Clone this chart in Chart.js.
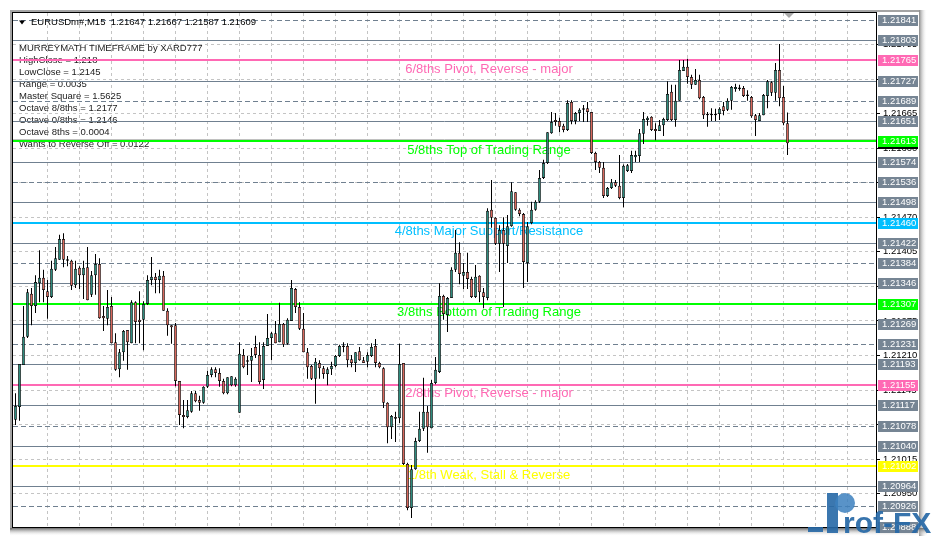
<!DOCTYPE html>
<html>
<head>
<meta charset="utf-8">
<title>EURUSDm#,M15 MurreyMath</title>
<script src="https://cdn.jsdelivr.net/npm/chart.js@4.4.1/dist/chart.umd.min.js"></script>
<style>
  html, body { margin: 0; padding: 0; background: #ffffff; }
  canvas { display: block; }
</style>
</head>
<body>
<canvas id="chart" width="935" height="539"></canvas>
<script>
// ---- Quote data: EURUSDm#, M15 candles (oldest first) ----
const opens = [
1.21089,1.21113,1.21192,1.21245,1.21326,1.21303,1.21346,1.21356,1.21331,1.21320,
1.21371,1.21390,1.21429,1.21391,1.21388,1.21342,1.21375,1.21361,1.21376,1.21324,
1.21361,1.21382,1.21284,1.21279,1.21303,1.21235,1.21184,1.21216,1.21258,1.21233,
1.21310,1.21277,1.21277,1.21307,1.21352,1.21358,1.21352,1.21360,1.21294,1.21267,
1.21267,1.21162,1.21098,1.21094,1.21104,1.21139,1.21126,1.21121,1.21151,1.21173,
1.21184,1.21177,1.21162,1.21139,1.21154,1.21154,1.21102,1.21211,1.21198,1.21200,
1.21226,1.21211,1.21164,1.21228,1.21243,1.21252,1.21235,1.21269,1.21232,1.21275,
1.21335,1.21301,1.21260,1.21216,1.21190,1.21166,1.21196,1.21186,1.21175,1.21184,
1.21190,1.21209,1.21226,1.21228,1.21203,1.21196,1.21218,1.21201,1.21198,1.21209,
1.21228,1.21196,1.21186,1.21121,1.21075,1.21094,1.21092,1.21196,1.21006,1.20923,
1.20996,1.21049,1.21072,1.21104,1.21073,1.21158,1.21179,1.21322,1.21286,1.21318,
1.21371,1.21403,1.21360,1.21367,1.21354,1.21320,1.21360,1.21329,1.21318,1.21484,
1.21469,1.21420,1.21446,1.21416,1.21453,1.21517,1.21484,1.21476,1.21384,1.21459,
1.21484,1.21499,1.21544,1.21572,1.21628,1.21653,1.21651,1.21642,1.21634,1.21687,
1.21651,1.21666,1.21672,1.21675,1.21668,1.21591,1.21574,1.21563,1.21510,1.21525,
1.21536,1.21529,1.21506,1.21557,1.21557,1.21583,1.21585,1.21627,1.21653,1.21659,
1.21636,1.21632,1.21643,1.21653,1.21706,1.21653,1.21689,1.21745,1.21753,1.21734,
1.21719,1.21728,1.21696,1.21664,1.21662,1.21664,1.21664,1.21679,1.21672,1.21689,
1.21711,1.21713,1.21713,1.21700,1.21696,1.21662,1.21651,1.21662,1.21698,1.21724,
1.21704,1.21747,1.21696,1.21647
];
const highs = [
1.21139,1.21194,1.21303,1.21335,1.21337,1.21361,1.21408,1.21371,1.21352,1.21388,
1.21414,1.21437,1.21440,1.21397,1.21390,1.21388,1.21378,1.21388,1.21414,1.21369,
1.21401,1.21393,1.21303,1.21333,1.21320,1.21252,1.21222,1.21258,1.21258,1.21314,
1.21312,1.21331,1.21312,1.21361,1.21395,1.21365,1.21371,1.21369,1.21299,1.21267,
1.21271,1.21162,1.21126,1.21126,1.21143,1.21143,1.21134,1.21152,1.21181,1.21188,
1.21188,1.21186,1.21166,1.21169,1.21171,1.21169,1.21235,1.21222,1.21209,1.21224,
1.21247,1.21235,1.21235,1.21288,1.21254,1.21275,1.21309,1.21271,1.21280,1.21352,
1.21337,1.21310,1.21290,1.21224,1.21192,1.21205,1.21201,1.21190,1.21188,1.21198,
1.21211,1.21230,1.21235,1.21233,1.21211,1.21216,1.21226,1.21207,1.21216,1.21233,
1.21241,1.21198,1.21188,1.21122,1.21098,1.21104,1.21232,1.21196,1.21008,1.21004,
1.21055,1.21104,1.21168,1.21115,1.21164,1.21207,1.21346,1.21324,1.21320,1.21376,
1.21446,1.21423,1.21384,1.21403,1.21358,1.21380,1.21361,1.21337,1.21487,1.21540,
1.21470,1.21455,1.21470,1.21474,1.21536,1.21517,1.21487,1.21478,1.21461,1.21499,
1.21502,1.21559,1.21578,1.21630,1.21668,1.21666,1.21657,1.21646,1.21690,1.21690,
1.21668,1.21675,1.21681,1.21687,1.21668,1.21593,1.21576,1.21574,1.21527,1.21542,
1.21540,1.21587,1.21569,1.21570,1.21595,1.21595,1.21636,1.21668,1.21660,1.21660,
1.21647,1.21653,1.21657,1.21726,1.21719,1.21719,1.21766,1.21766,1.21768,1.21738,
1.21749,1.21738,1.21698,1.21668,1.21675,1.21674,1.21677,1.21687,1.21694,1.21717,
1.21721,1.21719,1.21717,1.21709,1.21698,1.21664,1.21666,1.21702,1.21728,1.21726,
1.21760,1.21796,1.21717,1.21667
];
const lows = [
1.21079,1.21087,1.21192,1.21243,1.21267,1.21290,1.21310,1.21310,1.21279,1.21318,
1.21369,1.21390,1.21376,1.21378,1.21333,1.21337,1.21335,1.21316,1.21314,1.21320,
1.21324,1.21279,1.21256,1.21267,1.21233,1.21181,1.21169,1.21200,1.21183,1.21233,
1.21233,1.21233,1.21220,1.21305,1.21342,1.21327,1.21327,1.21294,1.21247,1.21232,
1.21152,1.21079,1.21073,1.21092,1.21102,1.21122,1.21106,1.21119,1.21149,1.21169,
1.21169,1.21151,1.21137,1.21137,1.21152,1.21151,1.21102,1.21186,1.21173,1.21160,
1.21205,1.21156,1.21147,1.21228,1.21201,1.21233,1.21235,1.21226,1.21230,1.21275,
1.21290,1.21258,1.21216,1.21166,1.21164,1.21119,1.21166,1.21166,1.21154,1.21173,
1.21188,1.21207,1.21216,1.21188,1.21188,1.21179,1.21200,1.21196,1.21188,1.21207,
1.21188,1.21186,1.21111,1.21045,1.21053,1.21047,1.21083,1.21004,1.20919,1.20904,
1.20995,1.21047,1.21068,1.21027,1.21073,1.21156,1.21177,1.21277,1.21254,1.21318,
1.21367,1.21344,1.21335,1.21335,1.21318,1.21318,1.21310,1.21299,1.21314,1.21450,
1.21418,1.21367,1.21301,1.21384,1.21452,1.21482,1.21472,1.21337,1.21348,1.21457,
1.21482,1.21497,1.21542,1.21570,1.21627,1.21642,1.21630,1.21630,1.21632,1.21645,
1.21645,1.21651,1.21649,1.21649,1.21589,1.21559,1.21553,1.21506,1.21508,1.21523,
1.21527,1.21504,1.21489,1.21555,1.21553,1.21574,1.21574,1.21608,1.21642,1.21632,
1.21615,1.21632,1.21623,1.21651,1.21651,1.21640,1.21689,1.21745,1.21721,1.21711,
1.21719,1.21692,1.21655,1.21640,1.21651,1.21651,1.21653,1.21662,1.21670,1.21672,
1.21706,1.21708,1.21696,1.21689,1.21657,1.21623,1.21651,1.21662,1.21675,1.21698,
1.21689,1.21679,1.21643,1.21587
];
const closes = [
1.21115,1.21194,1.21245,1.21329,1.21303,1.21348,1.21356,1.21333,1.21320,1.21373,
1.21393,1.21429,1.21390,1.21388,1.21341,1.21373,1.21361,1.21375,1.21314,1.21361,
1.21382,1.21280,1.21280,1.21301,1.21233,1.21183,1.21216,1.21256,1.21235,1.21310,
1.21273,1.21273,1.21307,1.21352,1.21358,1.21352,1.21360,1.21294,1.21267,1.21263,
1.21162,1.21098,1.21094,1.21107,1.21139,1.21124,1.21121,1.21151,1.21173,1.21184,
1.21177,1.21162,1.21139,1.21169,1.21171,1.21166,1.21213,1.21188,1.21200,1.21209,
1.21211,1.21160,1.21228,1.21243,1.21252,1.21233,1.21269,1.21230,1.21277,1.21337,
1.21301,1.21260,1.21216,1.21188,1.21166,1.21198,1.21186,1.21175,1.21184,1.21190,
1.21209,1.21228,1.21228,1.21201,1.21196,1.21216,1.21201,1.21196,1.21211,1.21226,
1.21196,1.21188,1.21121,1.21075,1.21096,1.21091,1.21194,1.21006,1.20923,1.20996,
1.21049,1.21072,1.21104,1.21075,1.21158,1.21183,1.21322,1.21288,1.21318,1.21371,
1.21403,1.21363,1.21367,1.21354,1.21320,1.21358,1.21329,1.21320,1.21482,1.21469,
1.21420,1.21446,1.21420,1.21453,1.21519,1.21484,1.21476,1.21386,1.21453,1.21484,
1.21499,1.21544,1.21572,1.21630,1.21649,1.21649,1.21640,1.21634,1.21685,1.21651,
1.21666,1.21672,1.21675,1.21668,1.21591,1.21574,1.21563,1.21510,1.21525,1.21536,
1.21529,1.21506,1.21567,1.21568,1.21587,1.21587,1.21628,1.21655,1.21657,1.21634,
1.21632,1.21643,1.21655,1.21702,1.21653,1.21689,1.21747,1.21753,1.21734,1.21719,
1.21728,1.21694,1.21662,1.21662,1.21664,1.21662,1.21674,1.21670,1.21689,1.21715,
1.21715,1.21711,1.21698,1.21698,1.21660,1.21653,1.21662,1.21700,1.21726,1.21704,
1.21747,1.21694,1.21647,1.21609
];

// ---- Murrey Math octave levels (top to bottom) ----
const murreyLevels = [
  1.21841, 1.21803, 1.21765, 1.21727, 1.21689, 1.21651, 1.21613, 1.21574, 1.21536,
  1.21498, 1.21460, 1.21422, 1.21384, 1.21346, 1.21307, 1.21269, 1.21231, 1.21193,
  1.21155, 1.21117, 1.21078, 1.21040, 1.21002, 1.20964, 1.20926, 1.20888
];
const keyLevels = [1.21765, 1.21613, 1.21460, 1.21307, 1.21155, 1.21002];
const keyLevelTexts = [
  '6/8ths Pivot, Reverse - major',
  '5/8ths Top of Trading Range',
  '4/8ths Major Support/Resistance',
  '3/8ths Bottom of Trading Range',
  '2/8ths Pivot, Reverse - major',
  '1/8th Weak, Stall & Reverse'
];

// ---- Price scale grid ticks ----
const priceTicks = [
  1.21795, 1.21730, 1.21665, 1.21600, 1.21535, 1.21470, 1.21405, 1.21340,
  1.21275, 1.21210, 1.21145, 1.21080, 1.21015, 1.20950
];

const bidPrice = 1.21609;
const askPrice = 1.21617;
const symbolTitle = 'EURUSDm#,M15  1.21647 1.21667 1.21587 1.21609';
const infoLines = [
  'MURREYMATH TIMEFRAME by XARD777',
  'HighClose = 1.218',
  'LowClose = 1.2145',
  'Range = 0.0035',
  'Master Square = 1.5625',
  'Octave 8/8ths = 1.2177',
  'Octave 0/8ths = 1.2146',
  'Octave 8ths = 0.0004',
  'Wants to Reverse Off = 0.0122'
];

// ---- Styling ----
const BULL = '#2e8b7d';
const BEAR = '#d8675c';
const KEY_COLORS = ['#ff69b4', '#00ff00', '#00bfff', '#00ff00', '#ff69b4', '#ffff00'];
const LEVEL_GRAY = '#708090';
const LABEL_GRAY = '#768594';
const FONT = '"Liberation Sans", Arial, sans-serif';

const bodies = opens.map((o, i) => ({ x: i, y: [o, closes[i]] }));
const wicks = opens.map((o, i) => ({ x: i, y: [lows[i], highs[i]] }));
const bodyColors = opens.map((o, i) => (closes[i] >= o ? BULL : BEAR));

const mt4Plugin = {
  id: 'mt4Plugin',
  beforeDraw(chart) {
    const ctx = chart.ctx;
    ctx.save();
    ctx.fillStyle = '#ffffff';
    ctx.fillRect(0, 0, chart.width, chart.height);
    // window edges and shadow
    ctx.fillStyle = '#a4a4a4';
    ctx.fillRect(10, 10, 910, 2);
    ctx.fillRect(10, 10, 2, 520);
    let g = ctx.createLinearGradient(919, 0, 927, 0);
    g.addColorStop(0, '#8a8a8a');
    g.addColorStop(1, 'rgba(255,255,255,0)');
    ctx.fillStyle = g;
    ctx.fillRect(919, 10, 8, 526);
    g = ctx.createLinearGradient(0, 528, 0, 536);
    g.addColorStop(0, '#6a6a6a');
    g.addColorStop(1, 'rgba(255,255,255,0)');
    ctx.fillStyle = g;
    ctx.fillRect(10, 528, 917, 8);
    ctx.restore();
  },
  beforeDatasetsDraw(chart) {
    const ctx = chart.ctx;
    const area = chart.chartArea;
    const ys = chart.scales.y;
    ctx.save();
    ctx.beginPath();
    ctx.rect(area.left, area.top, area.right - area.left, area.bottom - area.top);
    ctx.clip();

    // indicator info block
    ctx.font = '9.5px ' + FONT;
    ctx.fillStyle = '#1c1c1c';
    ctx.textAlign = 'left';
    ctx.textBaseline = 'middle';
    infoLines.forEach((t, k) => ctx.fillText(t, 19, 48 + 12 * k));

    // ask line
    const ya = Math.round(ys.getPixelForValue(askPrice)) + 0.5;
    ctx.strokeStyle = '#c0c0c0';
    ctx.lineWidth = 1;
    ctx.setLineDash([]);
    ctx.beginPath();
    ctx.moveTo(area.left, ya);
    ctx.lineTo(area.right, ya);
    ctx.stroke();

    // octave lines
    murreyLevels.forEach((p, k) => {
      const key = keyLevels.indexOf(p);
      let y = ys.getPixelForValue(p);
      if (key >= 0) {
        y = Math.round(y);
        ctx.strokeStyle = KEY_COLORS[key];
        ctx.lineWidth = 2;
        ctx.setLineDash([]);
      } else {
        y = Math.round(y) + 0.5;
        ctx.strokeStyle = LEVEL_GRAY;
        ctx.lineWidth = 1;
        ctx.setLineDash(k % 4 === 0 ? [5, 3] : []);
      }
      ctx.beginPath();
      ctx.moveTo(area.left, y);
      ctx.lineTo(area.right, y);
      ctx.stroke();
    });
    ctx.setLineDash([]);

    // octave captions
    ctx.font = '13px ' + FONT;
    ctx.textAlign = 'center';
    ctx.textBaseline = 'middle';
    keyLevels.forEach((p, k) => {
      const y = ys.getPixelForValue(p);
      ctx.fillStyle = KEY_COLORS[k];
      ctx.fillText(keyLevelTexts[k], 489, y + 9);
    });
    ctx.restore();
  },
  afterDraw(chart) {
    const ctx = chart.ctx;
    const area = chart.chartArea;
    const ys = chart.scales.y;
    ctx.save();

    // chart frame
    ctx.strokeStyle = '#000000';
    ctx.lineWidth = 1;
    ctx.strokeRect(area.left - 0.5, area.top - 0.5, area.right - area.left + 1, area.bottom - area.top + 1);

    // price boxes on the scale
    const boxX = area.right + 2;
    const drawBox = (p, fill) => {
      const y = Math.round(ys.getPixelForValue(p));
      ctx.fillStyle = fill;
      ctx.fillRect(boxX, y - 5, 40, 11);
      ctx.fillStyle = '#ffffff';
      ctx.font = '9.5px ' + FONT;
      ctx.textAlign = 'left';
      ctx.textBaseline = 'middle';
      ctx.fillText(p.toFixed(5), boxX + 4, y + 0.5);
    };
    drawBox(bidPrice, '#000000');
    murreyLevels.forEach((p) => {
      const key = keyLevels.indexOf(p);
      drawBox(p, key >= 0 ? KEY_COLORS[key] : LABEL_GRAY);
    });

    // symbol title
    ctx.fillStyle = '#000000';
    ctx.beginPath();
    ctx.moveTo(19, 20.5);
    ctx.lineTo(25, 20.5);
    ctx.lineTo(22, 24.5);
    ctx.closePath();
    ctx.fill();
    ctx.font = '9.5px ' + FONT;
    ctx.textAlign = 'left';
    ctx.textBaseline = 'middle';
    ctx.fillText(symbolTitle, 31, 22.5);

    // chart shift marker
    ctx.fillStyle = '#a8a8a8';
    ctx.beginPath();
    ctx.moveTo(784, 13);
    ctx.lineTo(794, 13);
    ctx.lineTo(789, 18);
    ctx.closePath();
    ctx.fill();

    // watermark
    ctx.fillStyle = 'rgba(38,104,166,0.9)';
    ctx.fillRect(808, 527, 15, 5);
    ctx.fillRect(827, 493, 11, 40);
    ctx.fillStyle = 'rgba(60,128,190,0.85)';
    ctx.beginPath();
    ctx.arc(845, 503, 10, 0, Math.PI * 2);
    ctx.fill();
    ctx.fillStyle = 'rgba(38,104,166,0.92)';
    ctx.font = 'bold 30px ' + FONT;
    ctx.textAlign = 'left';
    ctx.textBaseline = 'alphabetic';
    ctx.fillText('rof-FX', 843, 533);
    ctx.restore();
  }
};

new Chart(document.getElementById('chart'), {
  type: 'bar',
  data: {
    datasets: [
      {
        data: bodies,
        backgroundColor: bodyColors,
        borderColor: '#000000',
        borderWidth: 0.75,
        borderSkipped: false,
        grouped: false,
        maxBarThickness: 3.5,
        minBarLength: 1.5,
        inflateAmount: 0,
        order: 0
      },
      {
        data: wicks,
        backgroundColor: '#000000',
        borderWidth: 0,
        grouped: false,
        maxBarThickness: 1,
        inflateAmount: 0,
        order: 1
      }
    ]
  },
  options: {
    responsive: false,
    animation: false,
    events: [],
    devicePixelRatio: 1,
    layout: { padding: { left: 13, top: 13, right: 0, bottom: 12 } },
    plugins: { legend: { display: false }, tooltip: { enabled: false } },
    scales: {
      x: {
        type: 'linear',
        min: -0.625,
        max: 215.125,
        offset: false,
        afterBuildTicks(scale) {
          const t = [];
          for (let v = 8; v <= 208; v += 8) t.push({ value: v });
          scale.ticks = t;
        },
        afterFit(scale) { scale.height = 0; },
        ticks: { display: false },
        grid: { color: '#c4c4c4', offset: false, drawTicks: false, lineWidth: 1 },
        border: { display: false, dash: [3, 3] }
      },
      y: {
        position: 'right',
        min: 1.208873,
        max: 1.218542,
        afterBuildTicks(scale) {
          scale.ticks = priceTicks.map((v) => ({ value: v }));
        },
        afterFit(scale) { scale.width = 59; },
        ticks: {
          autoSkip: false,
          color: '#000000',
          padding: 3,
          font: { family: FONT, size: 9.5 },
          callback: (v) => Number(v).toFixed(5)
        },
        grid: { color: '#c4c4c4', tickColor: '#000000', tickLength: 4, lineWidth: 1, tickBorderDash: [] },
        border: { display: false, dash: [3, 3] }
      }
    }
  },
  plugins: [mt4Plugin]
});
</script>
</body>
</html>
